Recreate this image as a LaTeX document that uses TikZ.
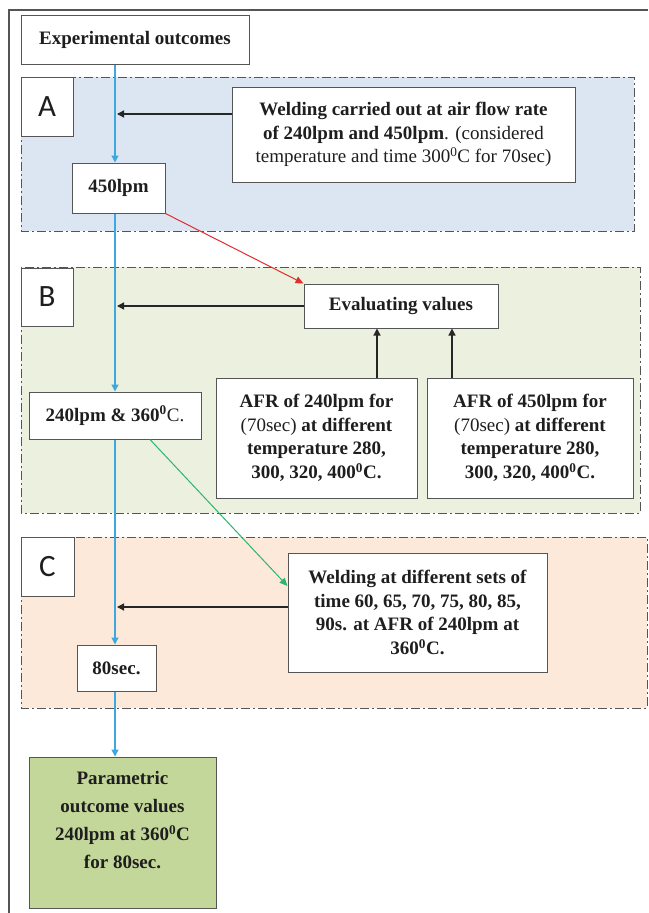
\documentclass[tikz,border=0pt]{standalone}
\usepackage{fontspec}
\setmainfont{Liberation Serif}
\newfontfamily\labfont{Carlito}
\usetikzlibrary{arrows.meta}
\definecolor{regA}{RGB}{220,230,242}
\definecolor{regB}{RGB}{235,241,222}
\definecolor{regC}{RGB}{253,233,217}
\definecolor{finfill}{RGB}{196,215,155}
\definecolor{edgegray}{RGB}{85,85,85}
\definecolor{spineblue}{RGB}{60,168,222}
\definecolor{redarr}{RGB}{225,45,45}
\definecolor{greenarr}{RGB}{45,180,110}
\definecolor{txt}{RGB}{30,30,30}
\begin{document}
\begin{tikzpicture}[x=1pt,y=-1pt,
  region/.style={draw=edgegray, line width=1pt, dash pattern=on 9pt off 3pt on 2pt off 3pt},
  stepbox/.style={draw=edgegray, fill=white, line width=1pt, inner sep=0pt, align=center, text=txt,
    font=\bfseries\fontsize{19}{23.5}\selectfont},
  labbox/.style={draw=edgegray, fill=white, line width=1pt, inner sep=0pt, text=txt,
    font=\labfont\fontsize{31}{31}\selectfont},
  bluearr/.style={draw=spineblue, line width=1.3pt, -{Triangle[width=7pt,length=7pt,fill=spineblue]}},
  blackarr/.style={draw=black!85, line width=1.3pt, -{Triangle[width=7pt,length=7pt]}},
  redarrow/.style={draw=redarr, line width=1pt, -{Triangle[width=7pt,length=8pt]}},
  greenarrow/.style={draw=greenarr, line width=1pt, -{Triangle[width=7pt,length=8pt]}},
 ]
\useasboundingbox (0,0) rectangle (648,913);
\fill[white] (0,0) rectangle (648,913);
% frame
\draw[edgegray, line width=1.2pt] (9,913) -- (9,10) -- (648,10);
% regions
\fill[regA] (21,77) rectangle (634,231);
\draw[region] (21,77) rectangle (634,231);
\fill[regB] (21,267) rectangle (640,513);
\draw[region] (21,267) rectangle (640,513);
\fill[regC] (21,537) rectangle (647,708);
\draw[region] (21,537) rectangle (647,708);
% spine coordinates
\coordinate (spine) at (115,0);
\coordinate (spineR) at (117,0);
% nodes
\node[stepbox, minimum width=228pt, minimum height=49pt] (exp) at (135,39.5) {Experimental outcomes};
\node[labbox, minimum width=52pt, minimum height=59pt] (labA) at (47,106.5) {A};
\node[stepbox, minimum width=343pt, minimum height=95pt] (weldA) at (403.5,134.5)
  {Welding carried out at air flow rate\\ of 240lpm and 450lpm{\mdseries. (considered}\\ {\mdseries temperature and time 300\textsuperscript{0}C for 70sec)}};
\node[stepbox, minimum width=93pt, minimum height=50pt] (p450) at (118.5,188) {450lpm};
\node[labbox, minimum width=52pt, minimum height=58pt] (labB) at (47,297) {B};
\node[stepbox, minimum width=194pt, minimum height=44pt] (eval) at (401,306) {Evaluating values};
\node[stepbox, minimum width=201pt, minimum height=120pt] (afr240) at (316.5,438)
  {AFR of 240lpm for\\ {\mdseries(70sec)} at different\\ temperature 280,\\ 300, 320, 400\textsuperscript{0}C.};
\node[stepbox, minimum width=206pt, minimum height=120pt] (afr450) at (530,438)
  {AFR of 450lpm for\\ {\mdseries(70sec)} at different\\ temperature 280,\\ 300, 320, 400\textsuperscript{0}C.};
\node[stepbox, minimum width=172pt, minimum height=47pt] (p240) at (115,415.5) {240lpm \& 360\textsuperscript{0}{\mdseries C.}};
\node[labbox, minimum width=53pt, minimum height=59pt] (labC) at (47.5,566.5) {C};
\node[stepbox, minimum width=259pt, minimum height=119pt] (weldC) at (417.5,612.5)
  {Welding at different sets of\\ time 60, 65, 70, 75, 80, 85,\\ 90s. at AFR of 240lpm at\\ 360\textsuperscript{0}C.};
\node[stepbox, minimum width=79pt, minimum height=46pt] (p80) at (116.5,668) {80sec.};
\node[stepbox, fill=finfill, minimum width=187pt, minimum height=151pt] (final) at (122.5,832.5) {};
\node[align=center, text=txt, inner sep=0pt, font=\bfseries\fontsize{19}{27.7}\selectfont] (finaltext) at (122.5,820)
  {Parametric\\ outcome values\\ 240lpm at 360\textsuperscript{0}C\\ for 80sec.};
% blue spine
\draw[bluearr] (exp.south -| spine) -- (p450.north -| spine);
\draw[bluearr] (p450.south -| spine) -- (p240.north -| spine);
\draw[bluearr] (p240.south -| spine) -- (p80.north -| spine);
\draw[bluearr] (p80.south -| spine) -- (final.north -| spine);
% black arrows
\draw[blackarr] ([yshift=20.5pt]weldA.west) -- ([yshift=20.5pt]weldA.west -| spineR);
\draw[blackarr] (eval.west) -- (eval.west -| spineR);
\draw[blackarr] ([yshift=5.5pt]weldC.west) -- ([yshift=5.5pt]weldC.west -| spineR);
\draw[blackarr] ([xshift=60.5pt]afr240.north) -- ([xshift=60.5pt]afr240.north |- eval.south);
\draw[blackarr] ([xshift=-78pt]afr450.north) -- ([xshift=-78pt]afr450.north |- eval.south);
% coloured diagonals
\draw[redarrow] (p450.south east) -- (eval.north west);
\draw[greenarrow] ([xshift=35pt]p240.south) -- ([yshift=26.5pt]weldC.west);
\end{tikzpicture}
\end{document}
